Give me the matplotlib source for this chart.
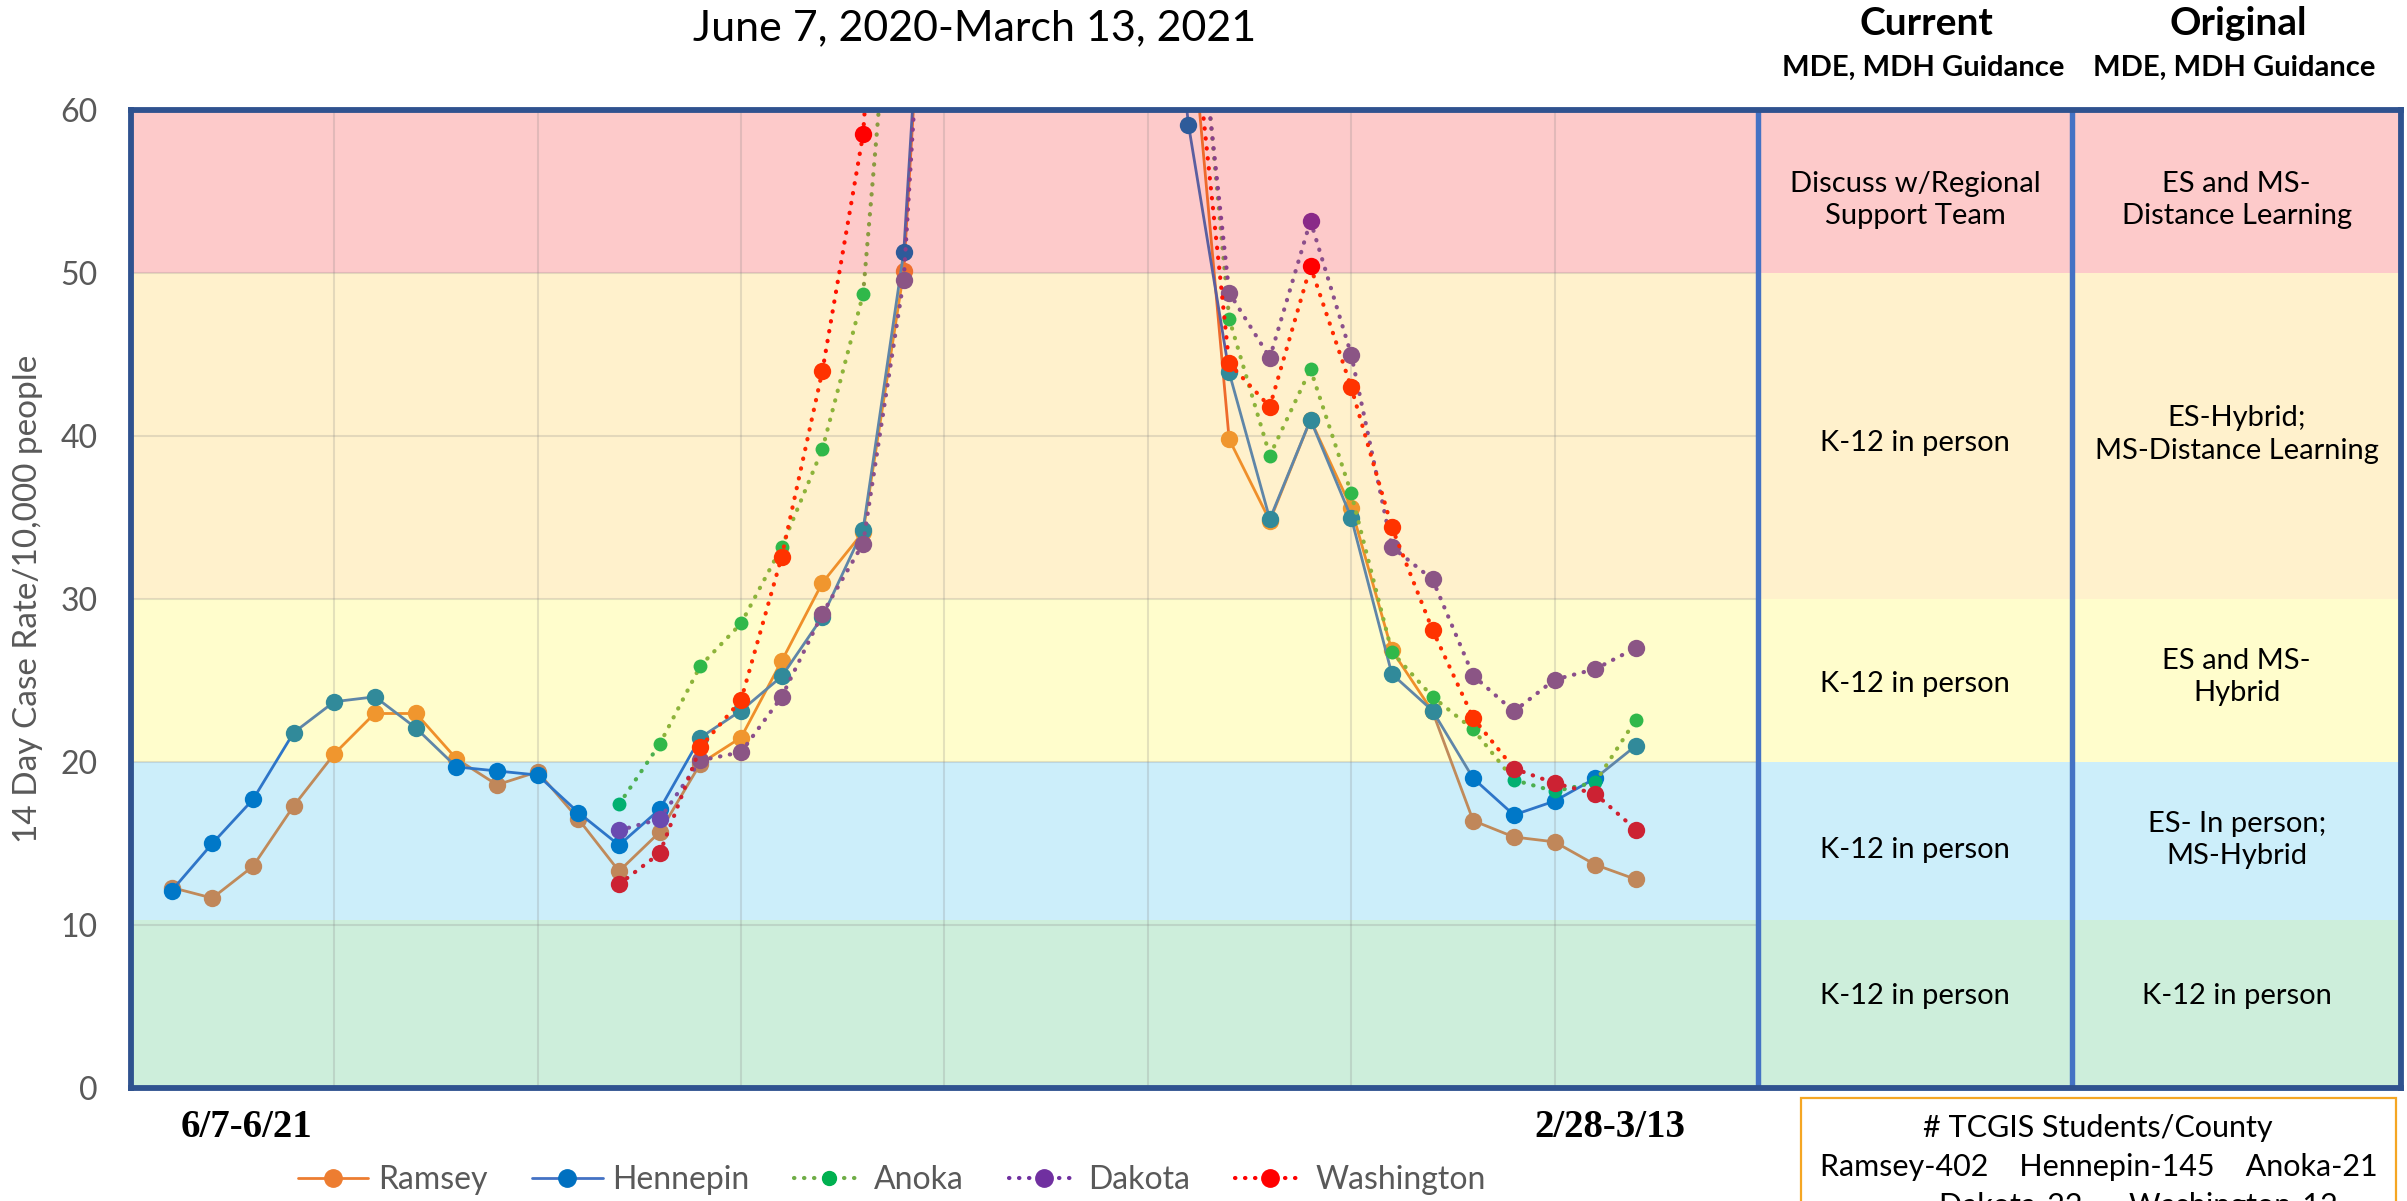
import numpy as np
import matplotlib.pyplot as plt
from matplotlib.lines import Line2D
from matplotlib.patches import Rectangle

plt.rcParams['font.family'] = ['Lato', 'DejaVu Sans']

nan = np.nan

# 37 two-week windows, 6/7-6/21 ... 2/28-3/13
weeks = np.arange(37)
first_label = '6/7-6/21'
last_label = '2/28-3/13'

# 14 day case rate per 10,000 (values above 60 are off the chart, estimated)
ramsey = [12.3, 11.65, 13.6, 17.3, 20.5, 23.0, 23.0, 20.2, 18.6, 19.4, 16.5, 13.3, 15.7, 19.9,
          21.5, 26.2, 31.0, 34.1, 50.1, 92, 108, 116, 110, 98, 85, 67.5, 39.8, 34.8, 41.0,
          35.6, 26.85, 23.1, 16.4, 15.4, 15.1, 13.7, 12.8]
hennepin = [12.1, 15.0, 17.7, 21.8, 23.7, 24.0, 22.1, 19.7, 19.45, 19.2, 16.9, 14.9, 17.1, 21.5,
            23.15, 25.25, 28.9, 34.25, 51.3, 92, 108, 115, 108, 96, 82, 59.1, 43.9, 34.9, 41.0,
            35.0, 25.4, 23.15, 19.0, 16.75, 17.6, 19.0, 21.0]
anoka = [nan] * 11 + [17.4, 21.1, 25.9, 28.5, 33.2, 39.2, 48.7, 78, 100, 115, 112, 102, 90, 84,
                      74, 47.2, 38.8, 44.1, 36.5, 26.75, 24.0, 22.0, 18.9, 18.2, 18.75, 22.6]
dakota = [nan] * 11 + [15.8, 16.5, 20.1, 20.6, 24.0, 29.1, 33.4, 49.6, 91, 106, 114, 108, 96,
                       88, 72, 48.8, 44.8, 53.2, 45.0, 33.2, 31.2, 25.3, 23.1, 25.05, 25.7, 27.0]
washington = [nan] * 11 + [12.5, 14.4, 20.9, 23.8, 32.6, 44.0, 58.5, 95, 110, 118, 112, 100,
                           92, 84, 68.4, 44.45, 41.8, 50.4, 43.0, 34.4, 28.1, 22.7, 19.6, 18.7,
                           18.05, 15.85]

# guidance table
current_col = ['Discuss w/Regional\nSupport Team', 'K-12 in person', 'K-12 in person',
               'K-12 in person', 'K-12 in person']
current_y = [54.5, 39.6, 24.8, 14.6, 5.65]
original_col = ['ES and MS-\nDistance Learning', 'ES-Hybrid;\nMS-Distance Learning',
                'ES and MS-\nHybrid', 'ES- In person;\nMS-Hybrid', 'K-12 in person']
original_y = [54.5, 40.1, 25.2, 15.2, 5.65]

students_title = '# TCGIS Students/County'
students_line1 = 'Ramsey-402    Hennepin-145    Anoka-21'
students_line2 = 'Dakota-22      Washington-12'

# background bands (low, high, colour)
bands = [(0, 10.3, '#CDEEDB'), (10.3, 20, '#CCEEFA'), (20, 30, '#FFFDCC'),
         (30, 50, '#FFF1CC'), (50, 60, '#FDCACA')]


def band_color(v, cols):
    if v < 20:
        return cols[0]
    if v < 50:
        return cols[1]
    return cols[2]


# name, data, line colours, marker colours, style, marker size, legend line, legend marker
series = [
    ('Ramsey', ramsey, ('#C08A5A', '#EF8F2A', '#EE6A2C'), ('#C0875A', '#F0962E', '#EE7030'), '-', 12.5, '#ED7D31', '#ED7D31'),
    ('Hennepin', hennepin, ('#2E75C8', '#5F86A8', '#5A5FA0'), ('#0078C8', '#318A9A', '#2E5B9A'), '-', 12.5, '#4472C4', '#0070C0'),
    ('Anoka', anoka, ('#4CAF50', '#8DB33A', '#8A9A40'), ('#00B070', '#30B84A', '#30B84A'), ':', 10, '#70AD47', '#00B050'),
    ('Dakota', dakota, ('#7A4FA0', '#8B4F8B', '#8B3F8B'), ('#6A4AB0', '#8B5585', '#8A2A88'), ':', 12.5, '#7030A0', '#7030A0'),
    ('Washington', washington, ('#D02030', '#FF2A00', '#FF1000'), ('#CC2233', '#FF3300', '#FF0000'), ':', 12.5, '#FF0000', '#FF0000'),
]

fig = plt.figure(figsize=(24.07, 12.01), dpi=100)
ax = fig.add_axes([0.0544, 0.0941, 0.9431, 0.8143])
ax.set_xlim(-1, 54.81)
ax.set_ylim(0, 60)

for lo, hi, c in bands:
    ax.axhspan(lo, hi, color=c, zorder=0, lw=0)

ax.hlines(np.arange(10, 61, 10), -1, 39, color='#808080', alpha=0.22, lw=1.5, zorder=1)
ax.vlines(np.arange(4, 39, 5), 0, 60, color='#808080', alpha=0.22, lw=1.5, zorder=1)

z = 3
handles = []
for name, vals, lcols, mcols, ls, ms, lc, mc in series:
    y = np.array(vals, dtype=float)
    if ls == '-':
        kw = dict(ls='-', lw=2.0, solid_capstyle='round')
    else:
        kw = dict(ls=(0, (0.1, 2.3)), lw=3.0, dash_capstyle='round')
    for i in range(len(y) - 1):
        if np.isnan(y[i]) or np.isnan(y[i + 1]):
            continue
        mid = (y[i] + y[i + 1]) / 2
        ax.plot(weeks[i:i + 2], y[i:i + 2], color=band_color(mid, lcols), zorder=z, **kw)
    for i in range(len(y)):
        if np.isnan(y[i]):
            continue
        ax.plot(weeks[i], y[i], 'o', color=band_color(y[i], mcols), ms=ms, mew=0, zorder=z + 0.5)
    z += 1
    handles.append(Line2D([], [], color=lc, marker='o', mfc=mc, mec=mc, ms=ms, label=name, **kw))

# table column separators
ax.axvline(39, color='#4472C4', lw=3.9, zorder=10)
ax.axvline(46.72, color='#4472C4', lw=3.9, zorder=10)

for s, yy in zip(current_col, current_y):
    ax.text(42.86, yy, s, ha='center', va='center', fontsize=21, linespacing=1.3, zorder=11)
for s, yy in zip(original_col, original_y):
    ax.text(50.77, yy, s, ha='center', va='center', fontsize=21, linespacing=1.3, zorder=11)

for sp in ax.spines.values():
    sp.set_color('#2F528F')
    sp.set_linewidth(4.2)
    sp.set_zorder(12)

ax.set_xticks([])
ax.set_yticks(np.arange(0, 61, 10))
ax.tick_params(axis='y', length=0, pad=24, labelsize=23, labelcolor='#595959')

fig.text(0.0116, 0.501, '14 Day Case Rate/10,000 people', rotation=90, ha='center', va='center',
         fontsize=24, color='#595959')
fig.text(0.4047, 0.9767, 'June 7, 2020-March 13, 2021', ha='center', va='center', fontsize=31)

fig.text(0.8002, 0.9808, 'Current', ha='center', va='center', fontsize=28, fontweight='bold')
fig.text(0.7990, 0.9434, 'MDE, MDH Guidance', ha='center', va='center', fontsize=21, fontweight='bold')
fig.text(0.9298, 0.9808, 'Original', ha='center', va='center', fontsize=28, fontweight='bold')
fig.text(0.9281, 0.9434, 'MDE, MDH Guidance', ha='center', va='center', fontsize=21, fontweight='bold')

fig.text(0.1026, 0.0616, first_label, ha='center', va='center', fontsize=28, fontweight='bold',
         family='Liberation Serif')
fig.text(0.6689, 0.0616, last_label, ha='center', va='center', fontsize=28, fontweight='bold',
         family='Liberation Serif')

fig.legend(handles=handles, loc='center', bbox_to_anchor=(0.3705, 0.0175), ncol=5, frameon=False,
           fontsize=23, labelcolor='#595959', handlelength=2.2, handletextpad=0.3, columnspacing=1.4)

fig.add_artist(Rectangle((0.7482, -0.05), 0.2472, 0.1358, transform=fig.transFigure, fill=False,
                         edgecolor='#F5A623', lw=1.6))
fig.text(0.8716, 0.0608, students_title, ha='center', va='center', fontsize=22)
fig.text(0.8720, 0.0283, students_line1, ha='center', va='center', fontsize=22)
fig.text(0.8883, -0.0045, students_line2, ha='center', va='center', fontsize=22)

fig.savefig('out.png', dpi=100, facecolor='white')
